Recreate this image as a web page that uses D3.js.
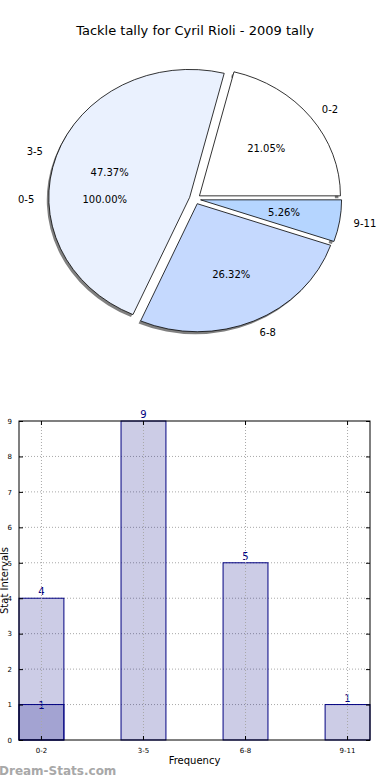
<!DOCTYPE html>
<html>
<head>
<meta charset="utf-8">
<script src="https://cdn.jsdelivr.net/npm/d3@7"></script>
<style>
  body { margin: 0; background: #fff; }
  svg { display: block; font-family: "DejaVu Sans", sans-serif; }
</style>
</head>
<body>
<div id="chart"></div>
<script>
// Pie data
const pieLabels = ["0-2", "3-5", "6-8", "9-11"];
const pieValues = [4, 9, 5, 1];
const pieColors = ["#ffffff", "#eaf1fe", "#c5d9fe", "#b5d5ff"];
// stray label drawn at 180 degrees in the original
const extraLabel = "0-5";
const extraPct = "100.00%";

// Bar data
const barCategories = ["0-2", "3-5", "6-8", "9-11"];
const barValues = [4, 9, 5, 1];
const overlayCategories = ["0-2"];
const overlayValues = [1];
const yTicks = [0, 1, 2, 3, 4, 5, 6, 7, 8, 9];

const width = 390, height = 780;

const svg = d3.select("#chart").append("svg")
    .attr("width", width)
    .attr("height", height)
    .attr("viewBox", [0, 0, width, height]);

svg.append("text")
    .attr("x", 195).attr("y", 35)
    .attr("text-anchor", "middle")
    .attr("font-size", 13)
    .text("Tackle tally for Cyril Rioli - 2009 tally");

// ---------- Pie (matplotlib style: ccw from east, elliptical) ----------
const cx = 195, cy = 199, rx = 141, ry = 128;
const explode = 0.04;

// d3 angle 0 = north, clockwise; matplotlib angle 0 = east, ccw
const pie = d3.pie().sort(null)
    .startAngle(Math.PI / 2)
    .endAngle(Math.PI / 2 - 2 * Math.PI);
const arcs = pie(pieValues);

const arc = d3.arc().innerRadius(0).outerRadius(1);
const rim = d3.arc().innerRadius(0.975).outerRadius(1);

// mid angle in matplotlib radians
const midTheta = d => Math.PI / 2 - (d.startAngle + d.endAngle) / 2;
const offset = theta => [explode * rx * Math.cos(theta), -explode * ry * Math.sin(theta)];

const pieG = svg.append("g");

// shadow rims
pieG.selectAll("path.shadow")
    .data(arcs)
    .join("path")
    .attr("class", "shadow")
    .attr("transform", d => {
        const [ox, oy] = offset(midTheta(d));
        return `translate(${cx + ox - 2},${cy + oy + 2.5}) scale(${rx},${ry})`;
    })
    .attr("d", rim)
    .attr("fill", "#6a6a6a")
    .attr("opacity", 0.85);

pieG.selectAll("path.wedge")
    .data(arcs)
    .join("path")
    .attr("class", "wedge")
    .attr("transform", d => {
        const [ox, oy] = offset(midTheta(d));
        return `translate(${cx + ox},${cy + oy}) scale(${rx},${ry})`;
    })
    .attr("d", arc)
    .attr("fill", (d, i) => pieColors[i])
    .attr("stroke", "#000")
    .attr("stroke-width", 0.8)
    .attr("vector-effect", "non-scaling-stroke");

const total = d3.sum(pieValues);

function placeLabel(theta, dist) {
    const [ox, oy] = offset(theta);
    return [cx + ox + dist * rx * Math.cos(theta), cy + oy - dist * ry * Math.sin(theta)];
}

const labelData = arcs.map((d, i) => ({
    theta: midTheta(d),
    label: pieLabels[i],
    pct: (pieValues[i] / total * 100).toFixed(2) + "%"
}));
labelData.push({ theta: Math.PI, label: extraLabel, pct: extraPct });

pieG.selectAll("text.lab")
    .data(labelData)
    .join("text")
    .attr("class", "lab")
    .each(function(d) {
        const [x, y] = placeLabel(d.theta, 1.1);
        d3.select(this).attr("x", x).attr("y", y)
            .attr("text-anchor", Math.cos(d.theta) >= 0 ? "start" : "end");
    })
    .attr("dy", "0.35em")
    .attr("font-size", 10)
    .text(d => d.label);

pieG.selectAll("text.pct")
    .data(labelData)
    .join("text")
    .attr("class", "pct")
    .each(function(d) {
        const [x, y] = placeLabel(d.theta, 0.6);
        d3.select(this).attr("x", x).attr("y", y);
    })
    .attr("text-anchor", "middle")
    .attr("dy", "0.35em")
    .attr("font-size", 10)
    .text(d => d.pct);

// ---------- Bar chart ----------
const plot = { left: 19, right: 370, top: 421, bottom: 740 };

const x = d3.scaleBand()
    .domain(barCategories)
    .range([plot.left, plot.right])
    .paddingInner(0.56)
    .paddingOuter(0);

const y = d3.scaleLinear()
    .domain([0, 9])
    .range([plot.bottom, plot.top]);

const barG = svg.append("g");

// horizontal grid under the bars
barG.append("g")
    .selectAll("line")
    .data(yTicks.slice(1, -1))
    .join("line")
    .attr("x1", plot.left).attr("x2", plot.right)
    .attr("y1", d => y(d)).attr("y2", d => y(d))
    .attr("stroke", "#a8a8a8")
    .attr("stroke-dasharray", "1,2");

// bars
function drawBars(cats, vals, labelDy) {
    const rows = cats.map((c, i) => ({ c, v: vals[i] }));
    barG.append("g")
        .selectAll("rect")
        .data(rows)
        .join("rect")
        .attr("x", d => x(d.c))
        .attr("y", d => y(d.v))
        .attr("width", x.bandwidth())
        .attr("height", d => y(0) - y(d.v))
        .attr("fill", "navy")
        .attr("fill-opacity", 0.2)
        .attr("stroke", "navy")
        .attr("stroke-width", 1);

    barG.append("g")
        .selectAll("text")
        .data(rows)
        .join("text")
        .attr("x", d => x(d.c) + x.bandwidth() / 2)
        .attr("y", d => y(d.v) + labelDy)
        .attr("text-anchor", "middle")
        .attr("font-size", 10)
        .attr("fill", "navy")
        .text(d => d.v);
}
drawBars(barCategories, barValues, -3);
drawBars(overlayCategories, overlayValues, 4);

// vertical grid shows through the bars
barG.append("g")
    .selectAll("line")
    .data(barCategories)
    .join("line")
    .attr("x1", d => x(d) + x.bandwidth() / 2).attr("x2", d => x(d) + x.bandwidth() / 2)
    .attr("y1", plot.top).attr("y2", plot.bottom)
    .attr("stroke", "#a8a8a8")
    .attr("stroke-dasharray", "1,2");

// frame
barG.append("rect")
    .attr("x", plot.left).attr("y", plot.top)
    .attr("width", plot.right - plot.left)
    .attr("height", plot.bottom - plot.top)
    .attr("fill", "none")
    .attr("stroke", "#000")
    .attr("stroke-width", 1);

// axes with inward ticks
const yAxisL = d3.axisLeft(y).tickValues(yTicks).tickSize(-4).tickPadding(7);
const yAxisR = d3.axisRight(y).tickValues(yTicks).tickSize(-4).tickFormat("");
const xAxisB = d3.axisBottom(x).tickSize(-4).tickPadding(8);
const xAxisT = d3.axisTop(x).tickSize(-4).tickFormat("");

function styleAxis(g) {
    g.select(".domain").remove();
    g.selectAll("text").attr("font-size", 7).attr("font-family", "DejaVu Sans, sans-serif").attr("fill", "#000");
    g.selectAll("line").attr("stroke", "#000");
}

barG.append("g").attr("transform", `translate(${plot.left},0)`).call(yAxisL).call(styleAxis);
barG.append("g").attr("transform", `translate(${plot.right},0)`).call(yAxisR).call(styleAxis);
barG.append("g").attr("transform", `translate(0,${plot.bottom})`).call(xAxisB).call(styleAxis);
barG.append("g").attr("transform", `translate(0,${plot.top})`).call(xAxisT).call(styleAxis);

// axis titles
svg.append("text")
    .attr("transform", `translate(8,${(plot.top + plot.bottom) / 2}) rotate(-90)`)
    .attr("text-anchor", "middle")
    .attr("font-size", 10)
    .text("Stat Intervals");

svg.append("text")
    .attr("x", (plot.left + plot.right) / 2)
    .attr("y", 764)
    .attr("text-anchor", "middle")
    .attr("font-size", 10)
    .text("Frequency");

// watermark
svg.append("text")
    .attr("x", -1).attr("y", 775)
    .attr("font-size", 12)
    .attr("font-weight", "bold")
    .attr("fill", "#a8a8a8")
    .text("Dream-Stats.com");
</script>
</body>
</html>
